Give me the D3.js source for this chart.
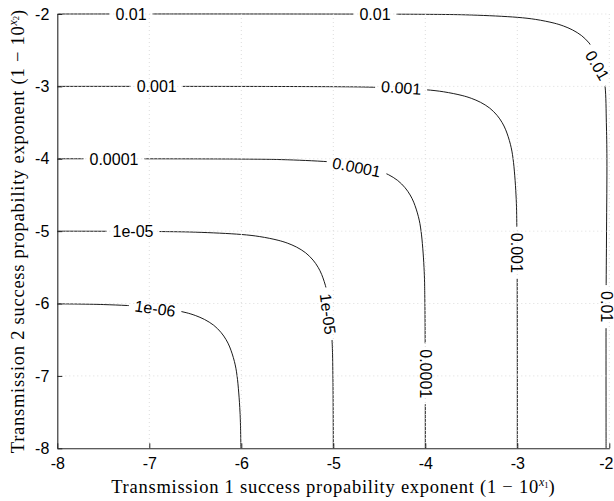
<!DOCTYPE html>
<html>
<head>
<meta charset="utf-8">
<script src="https://cdn.jsdelivr.net/npm/d3@7"></script>
<style>
  html, body { margin: 0; padding: 0; background: #fff; }
  svg { display: block; }
</style>
</head>
<body>
<svg id="chart" width="614" height="501"></svg>
<script>
// Axis ticks (exponents)
const xTicks = [-8, -7, -6, -5, -4, -3, -2];
const yTicks = [-8, -7, -6, -5, -4, -3, -2];

// Contour levels of the combined failure probability
const levelNames = ["1e-06", "1e-05", "0.0001", "0.001", "0.01"];

// Contour traces as [x1, x2] exponent pairs
const line1e06 = [
  [-8, -6.0044], [-7.5, -6.014], [-7, -6.046], [-6.8, -6.075], [-6.6, -6.126],
  [-6.5, -6.165], [-6.4, -6.22], [-6.3, -6.3], [-6.22, -6.4], [-6.165, -6.5],
  [-6.126, -6.6], [-6.075, -6.8], [-6.046, -7], [-6.014, -7.5], [-6.0044, -8]
];
const line1e05 = [
  [-8, -5.0], [-7, -5.0044], [-6.5, -5.014], [-6, -5.046], [-5.8, -5.075],
  [-5.6, -5.126], [-5.5, -5.165], [-5.4, -5.22], [-5.3, -5.3], [-5.22, -5.4],
  [-5.165, -5.5], [-5.126, -5.6], [-5.075, -5.8], [-5.046, -6], [-5.014, -6.5],
  [-5.0044, -7], [-5.0, -8]
];
const line1e04 = [
  [-8, -4.0], [-6, -4.0044], [-5.5, -4.014], [-5, -4.046], [-4.8, -4.075],
  [-4.6, -4.126], [-4.5, -4.165], [-4.4, -4.22], [-4.3, -4.3], [-4.22, -4.4],
  [-4.165, -4.5], [-4.126, -4.6], [-4.075, -4.8], [-4.046, -5], [-4.014, -5.5],
  [-4.0044, -6], [-4.0, -8]
];
const line1e03 = [
  [-8, -3.0], [-5, -3.0044], [-4.5, -3.014], [-4, -3.046], [-3.8, -3.075],
  [-3.6, -3.126], [-3.5, -3.165], [-3.4, -3.22], [-3.3, -3.3], [-3.22, -3.4],
  [-3.165, -3.5], [-3.126, -3.6], [-3.075, -3.8], [-3.046, -4], [-3.014, -4.5],
  [-3.0044, -5], [-3.0, -8]
];
const line1e02 = [
  [-8, -2.0], [-4, -2.0044], [-3.5, -2.014], [-3, -2.046], [-2.8, -2.075],
  [-2.6, -2.126], [-2.5, -2.165], [-2.4, -2.22], [-2.3, -2.3], [-2.22, -2.4],
  [-2.165, -2.5], [-2.126, -2.6], [-2.075, -2.8], [-2.046, -3], [-2.032, -3.5],
  [-2.026, -4], [-2.03, -5], [-2.035, -6], [-2.035, -8]
];
const contourLines = [line1e06, line1e05, line1e04, line1e03, line1e02];

// Inline label anchors for each level: [x1, x2, rotation in degrees]
const labelSpots = [
  [[-6.937, -6.068, 8]],
  [[-7.177, -5.0, 0], [-5.058, -6.144, 83]],
  [[-7.384, -4.0, 0], [-4.746, -4.116, 11], [-4.0, -6.97, 90]],
  [[-6.92, -3.0, 0], [-4.262, -3.017, 4], [-3.005, -5.3, 90]],
  [[-7.199, -2.0, 0], [-4.547, -2.0, 0], [-2.13, -2.71, 60], [-2.03, -6.043, 90]]
];

const xTitle = "Transmission 1 success propability exponent";
const yTitle = "Transmission 2 success propability exponent";

const W = 614, H = 501;
const plot = { left: 57.3, right: 609.3, top: 14, bottom: 448.3 };

const x = d3.scaleLinear().domain([-8, -2]).range([plot.left, plot.right]);
const y = d3.scaleLinear().domain([-8, -2]).range([plot.bottom, plot.top]);

const svg = d3.select("#chart");
const defs = svg.append("defs");

defs.append("clipPath").attr("id", "plotClip")
  .append("rect")
  .attr("x", plot.left).attr("y", plot.top - 1.5)
  .attr("width", plot.right - plot.left + 1.5)
  .attr("height", plot.bottom - plot.top + 1.5);

const gapMask = defs.append("mask").attr("id", "labelGaps")
  .attr("maskUnits", "userSpaceOnUse")
  .attr("x", 0).attr("y", 0).attr("width", W).attr("height", H);
gapMask.append("rect").attr("width", W).attr("height", H).attr("fill", "#fff");

// Contour lines
const lineGen = d3.line()
  .x(d => x(d[0]))
  .y(d => y(d[1]))
  .curve(d3.curveCatmullRom.alpha(0.5));

const contourG = svg.append("g")
  .attr("clip-path", "url(#plotClip)")
  .append("g")
  .attr("mask", "url(#labelGaps)");

contourG.selectAll("path")
  .data(contourLines)
  .join("path")
  .attr("d", lineGen)
  .attr("fill", "none")
  .attr("stroke", "#000")
  .attr("stroke-width", 0.9);

// Dotted grid drawn over the contours
const gridG = svg.append("g");
gridG.selectAll("line.vg")
  .data(xTicks.filter(t => t !== -8))
  .join("line")
  .attr("class", "vg")
  .attr("x1", d => x(d)).attr("x2", d => x(d))
  .attr("y1", plot.top).attr("y2", plot.bottom)
  .attr("stroke", "#dcdcdc").attr("stroke-width", 1)
  .attr("stroke-dasharray", "1,3");
gridG.selectAll("line.hg")
  .data(yTicks.filter(t => t !== -8))
  .join("line")
  .attr("class", "hg")
  .attr("x1", plot.left).attr("x2", plot.right)
  .attr("y1", d => y(d)).attr("y2", d => y(d))
  .attr("stroke", "#dcdcdc").attr("stroke-width", 1)
  .attr("stroke-dasharray", "1,3");

// Contour labels, with gaps cut in the lines beneath them
const labelG = svg.append("g")
  .attr("font-family", "'Liberation Sans', Arial, sans-serif")
  .attr("font-size", 16)
  .attr("fill", "#000");

labelSpots.forEach((spots, i) => {
  spots.forEach(s => {
    const px = x(s[0]), py = y(s[1]);
    const t = labelG.append("text")
      .attr("transform", `translate(${px},${py}) rotate(${s[2]})`)
      .attr("text-anchor", "middle")
      .attr("dy", "0.36em")
      .text(levelNames[i]);
    const len = t.node().getComputedTextLength();
    gapMask.append("rect")
      .attr("x", -len / 2 - 6).attr("y", -7)
      .attr("width", len + 12).attr("height", 14)
      .attr("transform", `translate(${px},${py}) rotate(${s[2]})`)
      .attr("fill", "#000");
  });
});

// Axes
const axisColor = "#262626";
const xAxis = d3.axisBottom(x).tickValues(xTicks).tickSizeInner(-5).tickSizeOuter(0)
  .tickPadding(9).tickFormat(d3.format("d"));
const yAxis = d3.axisLeft(y).tickValues(yTicks).tickSizeInner(-5).tickSizeOuter(0)
  .tickPadding(8).tickFormat(d3.format("d"));

const gx = svg.append("g").attr("transform", `translate(0,${plot.bottom})`).call(xAxis);
const gy = svg.append("g").attr("transform", `translate(${plot.left},0)`).call(yAxis);
[gx, gy].forEach(g => {
  g.select(".domain").attr("stroke", axisColor).attr("stroke-width", 1.1);
  g.selectAll(".tick line").attr("stroke", axisColor).attr("stroke-width", 1);
  g.selectAll(".tick text")
    .attr("fill", "#000")
    .attr("font-family", "'Liberation Sans', Arial, sans-serif")
    .attr("font-size", 16)
    .text(d => (d < 0 ? "-" + Math.abs(d) : String(d)));
});
gx.selectAll(".tick text").attr("dy", "0.75em");
// keep the last x tick label inside the page edge
gx.selectAll(".tick text").filter(d => d === xTicks[xTicks.length - 1])
  .attr("text-anchor", "end").attr("x", W - 1 - x(xTicks[xTicks.length - 1]));

// Axis titles (serif, with the exponent written as a superscript)
function addTitle(sel, main, sub) {
  sel.append("tspan").text(main + " (1 \u2212 10");
  sel.append("tspan").attr("font-style", "italic").attr("font-size", 12)
    .attr("letter-spacing", 0).attr("dy", -7.5).text("x");
  sel.append("tspan").attr("font-size", 8.5).attr("letter-spacing", 0)
    .attr("dy", 2.5).text(sub);
  sel.append("tspan").attr("dy", 5).text(")");
}

const titleFont = "'Liberation Serif', 'Times New Roman', serif";
const xt = svg.append("text")
  .attr("x", (plot.left + plot.right) / 2)
  .attr("y", 493)
  .attr("text-anchor", "middle")
  .attr("font-family", titleFont)
  .attr("font-size", 18.5)
  .attr("letter-spacing", 0.75)
  .attr("fill", "#000");
addTitle(xt, xTitle, "1");

const yt = svg.append("text")
  .attr("transform", `translate(24,${(plot.top + plot.bottom) / 2}) rotate(-90)`)
  .attr("text-anchor", "middle")
  .attr("font-family", titleFont)
  .attr("font-size", 18.5)
  .attr("letter-spacing", 0.75)
  .attr("fill", "#000");
addTitle(yt, yTitle, "2");
</script>
</body>
</html>
